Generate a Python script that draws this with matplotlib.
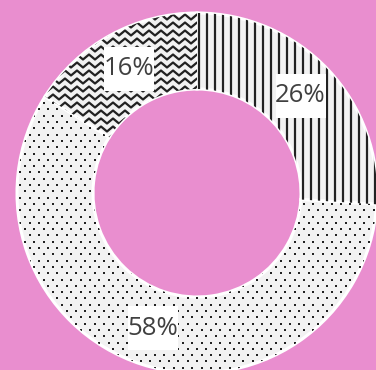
import numpy as np
import matplotlib
matplotlib.use('Agg')
import matplotlib.pyplot as plt
from matplotlib.collections import LineCollection
from matplotlib.patches import Rectangle

labels = ["26%", "58%", "16%"]
values = [26, 58, 16]
patterns = ["vlines", "dots", "waves"]

BG = "#E98ECF"
FILL = "#F2F2F2"
INK = "#222222"

fig = plt.figure(figsize=(3.76, 3.70), dpi=100, facecolor=BG)
ax = fig.add_axes([0, 0, 1, 1])
ax.set_facecolor(BG)

R_OUT, R_W = 180, 76
wedges, _ = ax.pie(values, startangle=90, counterclock=False, radius=R_OUT,
                   colors=[FILL] * 3,
                   wedgeprops=dict(width=R_W, edgecolor="white", linewidth=2.2))


def vlines(ax, clip):
    xs = np.arange(2 - 8 * 30, 200, 8)
    segs = [[(x, -200), (x, 200)] for x in xs]
    lc = LineCollection(segs, colors=INK, linewidths=1.6, zorder=2)
    ax.add_collection(lc)
    lc.set_clip_path(clip)


def dots(ax, clip):
    pts = []
    for j, y in enumerate(np.arange(-200, 200, 6.3)):
        off = 4.65 if j % 2 else 0
        for x in np.arange(-200 + off, 200, 9.3):
            pts.append((x, y))
    pts = np.array(pts)
    sc = ax.scatter(pts[:, 0], pts[:, 1], s=3.6, marker="s", c=INK,
                    linewidths=0, zorder=2)
    sc.set_clip_path(clip)


def waves(ax, clip):
    t = np.arange(-200, 200, 0.5)
    period, amp = 12.0, 2.5
    tri = amp * (2 * np.abs(2 * ((t / period) % 1) - 1) - 1)
    segs = [np.column_stack([t, y0 + tri]) for y0 in np.arange(-200, 200, 8)]
    lc = LineCollection(segs, colors=INK, linewidths=1.6, zorder=2)
    ax.add_collection(lc)
    lc.set_clip_path(clip)


drawers = {"vlines": vlines, "dots": dots, "waves": waves}

for w, lab, pat in zip(wedges, labels, patterns):
    drawers[pat](ax, w)
    mid = np.deg2rad((w.theta1 + w.theta2) / 2)
    r = R_OUT - R_W / 2
    x, y = r * np.cos(mid), r * np.sin(mid)
    ax.add_patch(Rectangle((x - 25, y - 22), 50, 44, facecolor="white",
                           edgecolor="none", zorder=3))
    ax.text(x, y, lab, ha="center", va="center", fontsize=18.5,
            family=["Open Sans", "DejaVu Sans"], color="#404040", zorder=4)

ax.set_xlim(-197, 179)
ax.set_ylim(-177, 193)
ax.set_aspect("equal")
ax.axis("off")

fig.savefig("out.png", dpi=100, facecolor=BG)
